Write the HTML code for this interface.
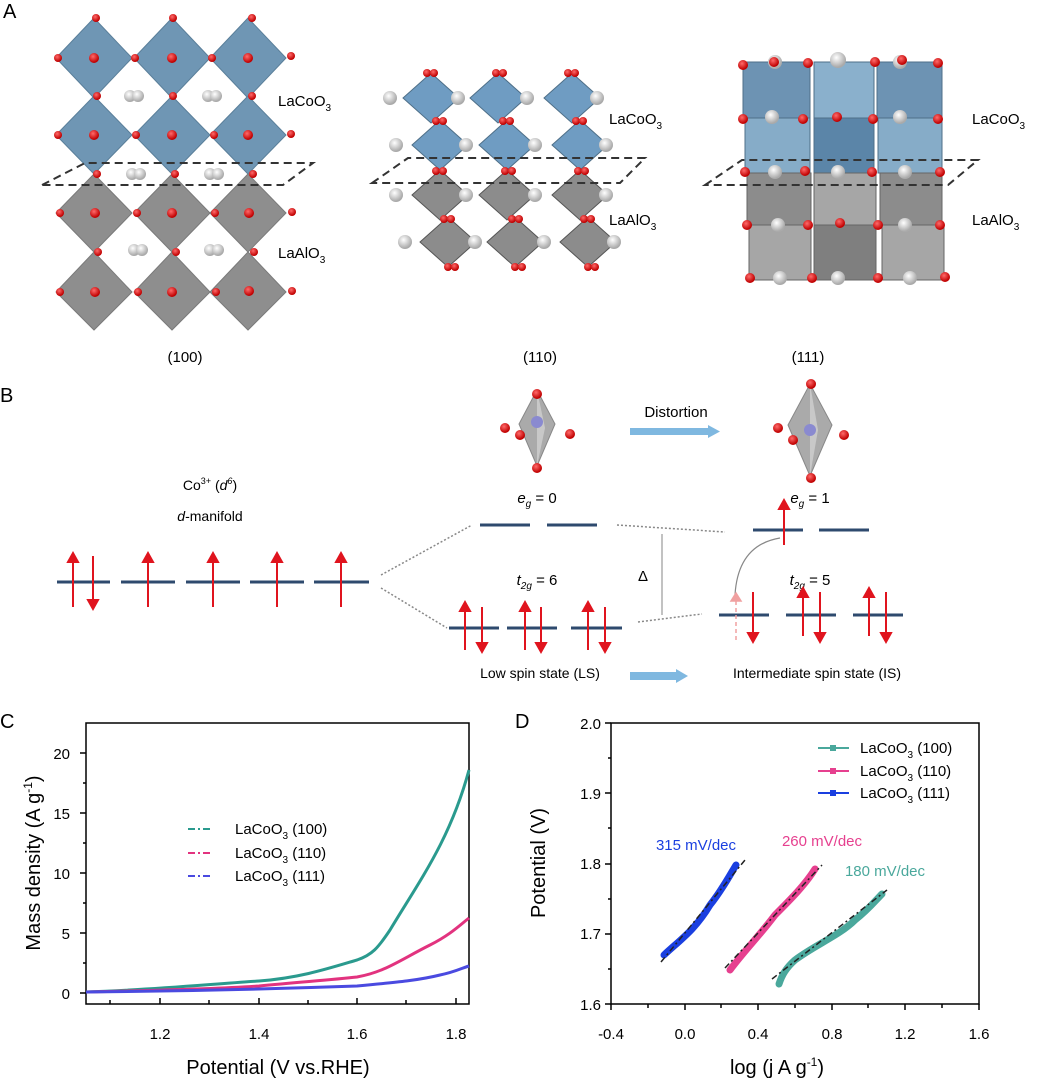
<!DOCTYPE html>
<html><head><meta charset="utf-8"><style>
body{margin:0;background:#fff}
svg{display:block;font-family:"Liberation Sans",sans-serif}
</style></head><body>
<svg width="1039" height="1082" viewBox="0 0 1039 1082" xmlns="http://www.w3.org/2000/svg">
<defs>
<radialGradient id="ro" cx="40%" cy="35%" r="60%"><stop offset="0" stop-color="#ff6a6a"/><stop offset="1" stop-color="#c00000"/></radialGradient>
<radialGradient id="wo" cx="40%" cy="35%" r="60%"><stop offset="0" stop-color="#ffffff"/><stop offset="1" stop-color="#aaaaaa"/></radialGradient>
</defs>
<text x="3" y="18" font-size="20">A</text>
<!-- (100) -->
<g>
<g fill="#6f96b4" stroke="#5a7f9a" stroke-width="1">
<polygon points="94,18 132,58 94,98 56,58"/><polygon points="172,18 210,58 172,98 134,58"/><polygon points="248,18 286,58 248,98 210,58"/>
<polygon points="94,96 132,135 94,174 56,135"/><polygon points="172,96 210,135 172,174 134,135"/><polygon points="248,96 286,135 248,174 210,135"/>
</g>
<g fill="#8e8e8e" stroke="#7a7a7a" stroke-width="1">
<polygon points="94,174 132,213 94,252 56,213"/><polygon points="172,174 210,213 172,252 134,213"/><polygon points="248,174 286,213 248,252 210,213"/>
<polygon points="94,252 132,292 94,330 56,292"/><polygon points="172,252 210,292 172,330 134,292"/><polygon points="248,252 286,292 248,330 210,292"/>
</g>
<g fill="url(#wo)"><circle cx="130" cy="96" r="6"/><circle cx="138" cy="96" r="6"/><circle cx="208" cy="96" r="6"/><circle cx="216" cy="96" r="6"/>
<circle cx="132" cy="174" r="6"/><circle cx="140" cy="174" r="6"/><circle cx="210" cy="174" r="6"/><circle cx="218" cy="174" r="6"/>
<circle cx="134" cy="250" r="6"/><circle cx="142" cy="250" r="6"/><circle cx="210" cy="250" r="6"/><circle cx="218" cy="250" r="6"/></g>
<g fill="url(#ro)">
<circle cx="96" cy="18" r="4"/><circle cx="173" cy="18" r="4"/><circle cx="252" cy="18" r="4"/>
<circle cx="58" cy="58" r="4"/><circle cx="94" cy="58" r="5"/><circle cx="135" cy="58" r="4"/><circle cx="172" cy="58" r="5"/><circle cx="212" cy="58" r="4"/><circle cx="248" cy="58" r="5"/><circle cx="291" cy="56" r="4"/>
<circle cx="97" cy="96" r="4"/><circle cx="173" cy="96" r="4"/><circle cx="252" cy="96" r="4"/>
<circle cx="58" cy="135" r="4"/><circle cx="94" cy="135" r="5"/><circle cx="136" cy="135" r="4"/><circle cx="172" cy="135" r="5"/><circle cx="214" cy="135" r="4"/><circle cx="248" cy="135" r="5"/><circle cx="291" cy="134" r="4"/>
<circle cx="97" cy="174" r="4"/><circle cx="175" cy="174" r="4"/><circle cx="253" cy="174" r="4"/>
<circle cx="60" cy="213" r="4"/><circle cx="95" cy="213" r="5"/><circle cx="137" cy="213" r="4"/><circle cx="172" cy="213" r="5"/><circle cx="215" cy="213" r="4"/><circle cx="249" cy="213" r="5"/><circle cx="292" cy="212" r="4"/>
<circle cx="98" cy="252" r="4"/><circle cx="176" cy="252" r="4"/><circle cx="254" cy="252" r="4"/>
<circle cx="60" cy="292" r="4"/><circle cx="95" cy="292" r="5"/><circle cx="138" cy="292" r="4"/><circle cx="172" cy="292" r="5"/><circle cx="216" cy="292" r="4"/><circle cx="249" cy="291" r="5"/><circle cx="292" cy="291" r="4"/>
</g>
<path d="M42,185 L85,163 L313,163 L283,185 Z" fill="none" stroke="#333" stroke-width="2" stroke-dasharray="8,5"/>
<text x="278" y="106" font-size="15">LaCoO<tspan font-size="10" dy="5">3</tspan></text>
<text x="278" y="258" font-size="15">LaAlO<tspan font-size="10" dy="5">3</tspan></text>
</g>
<!-- (110) -->
<g>
<g fill="#6f9cc2" stroke="#4e6f88"><polygon points="431,73 459,98 431,123 403,98"/><polygon points="498,73 526,98 498,123 470,98"/><polygon points="572,73 600,98 572,123 544,98"/>
<polygon points="440,120 468,145 440,170 412,145"/><polygon points="507,120 535,145 507,170 479,145"/><polygon points="580,120 608,145 580,170 552,145"/></g>
<g fill="#8c8c8c" stroke="#555"><polygon points="440,170 468,195 440,220 412,195"/><polygon points="507,170 535,195 507,220 479,195"/><polygon points="580,170 608,195 580,220 552,195"/>
<polygon points="448,217 476,242 448,267 420,242"/><polygon points="515,217 543,242 515,267 487,242"/><polygon points="588,217 616,242 588,267 560,242"/></g>
<g fill="url(#wo)"><circle cx="390" cy="98" r="7"/><circle cx="458" cy="98" r="7"/><circle cx="527" cy="98" r="7"/><circle cx="597" cy="98" r="7"/>
<circle cx="396" cy="145" r="7"/><circle cx="466" cy="145" r="7"/><circle cx="535" cy="145" r="7"/><circle cx="606" cy="145" r="7"/>
<circle cx="396" cy="195" r="7"/><circle cx="466" cy="195" r="7"/><circle cx="535" cy="195" r="7"/><circle cx="606" cy="195" r="7"/>
<circle cx="405" cy="242" r="7"/><circle cx="475" cy="242" r="7"/><circle cx="544" cy="242" r="7"/><circle cx="614" cy="242" r="7"/></g>
<g fill="url(#ro)"><circle cx="427" cy="73" r="4"/><circle cx="434" cy="73" r="4"/><circle cx="496" cy="73" r="4"/><circle cx="503" cy="73" r="4"/><circle cx="568" cy="73" r="4"/><circle cx="575" cy="73" r="4"/>
<circle cx="436" cy="121" r="4"/><circle cx="443" cy="121" r="4"/><circle cx="503" cy="121" r="4"/><circle cx="510" cy="121" r="4"/><circle cx="576" cy="121" r="4"/><circle cx="583" cy="121" r="4"/>
<circle cx="436" cy="171" r="4"/><circle cx="443" cy="171" r="4"/><circle cx="505" cy="171" r="4"/><circle cx="512" cy="171" r="4"/><circle cx="578" cy="171" r="4"/><circle cx="585" cy="171" r="4"/>
<circle cx="444" cy="219" r="4"/><circle cx="451" cy="219" r="4"/><circle cx="512" cy="219" r="4"/><circle cx="519" cy="219" r="4"/><circle cx="584" cy="219" r="4"/><circle cx="591" cy="219" r="4"/>
<circle cx="448" cy="267" r="4"/><circle cx="455" cy="267" r="4"/><circle cx="515" cy="267" r="4"/><circle cx="522" cy="267" r="4"/><circle cx="588" cy="267" r="4"/><circle cx="595" cy="267" r="4"/></g>
<path d="M372,183 L408,158 L645,158 L620,183 Z" fill="none" stroke="#333" stroke-width="2" stroke-dasharray="8,5"/>
<text x="609" y="124" font-size="15">LaCoO<tspan font-size="10" dy="5">3</tspan></text>
<text x="609" y="225" font-size="15">LaAlO<tspan font-size="10" dy="5">3</tspan></text>
</g>
<!-- (111) -->
<g>
<g fill="#6d93b3" stroke="#4f6f88"><rect x="743" y="62" width="67" height="56"/><rect x="814" y="62" width="60" height="56" fill="#8ab0cc"/><rect x="877" y="62" width="65" height="56"/>
<rect x="745" y="118" width="65" height="55" fill="#86acc8"/><rect x="814" y="118" width="60" height="55" fill="#5b85a8"/><rect x="878" y="118" width="64" height="55" fill="#86acc8"/></g>
<g fill="#8c8c8c" stroke="#666"><rect x="747" y="173" width="64" height="52"/><rect x="814" y="173" width="62" height="52" fill="#a6a6a6"/><rect x="880" y="173" width="62" height="52"/>
<rect x="749" y="225" width="62" height="55" fill="#a6a6a6"/><rect x="814" y="225" width="62" height="55" fill="#7f7f7f"/><rect x="882" y="225" width="62" height="55" fill="#a6a6a6"/></g>
<g fill="url(#wo)"><circle cx="775" cy="62" r="7"/><circle cx="838" cy="60" r="8"/><circle cx="900" cy="62" r="7"/>
<circle cx="772" cy="117" r="7"/><circle cx="900" cy="117" r="7"/><circle cx="775" cy="172" r="7"/><circle cx="838" cy="172" r="7"/><circle cx="905" cy="172" r="7"/>
<circle cx="778" cy="225" r="7"/><circle cx="905" cy="225" r="7"/><circle cx="780" cy="278" r="7"/><circle cx="838" cy="278" r="7"/><circle cx="910" cy="278" r="7"/></g>
<g fill="url(#ro)"><circle cx="743" cy="65" r="5"/><circle cx="774" cy="62" r="5"/><circle cx="808" cy="63" r="5"/><circle cx="875" cy="62" r="5"/><circle cx="902" cy="60" r="5"/><circle cx="938" cy="63" r="5"/>
<circle cx="743" cy="119" r="5"/><circle cx="803" cy="119" r="5"/><circle cx="837" cy="117" r="5"/><circle cx="873" cy="119" r="5"/><circle cx="938" cy="119" r="5"/>
<circle cx="745" cy="172" r="5"/><circle cx="805" cy="171" r="5"/><circle cx="872" cy="172" r="5"/><circle cx="940" cy="172" r="5"/>
<circle cx="747" cy="225" r="5"/><circle cx="808" cy="225" r="5"/><circle cx="840" cy="223" r="5"/><circle cx="878" cy="225" r="5"/><circle cx="940" cy="225" r="5"/>
<circle cx="750" cy="278" r="5"/><circle cx="812" cy="278" r="5"/><circle cx="878" cy="278" r="5"/><circle cx="945" cy="277" r="5"/></g>
<path d="M705,185 L742,160 L978,160 L948,185 Z" fill="none" stroke="#333" stroke-width="2" stroke-dasharray="8,5"/>
<text x="972" y="124" font-size="15">LaCoO<tspan font-size="10" dy="5">3</tspan></text>
<text x="972" y="225" font-size="15">LaAlO<tspan font-size="10" dy="5">3</tspan></text>
</g>
<text x="185" y="362" font-size="15" text-anchor="middle">(100)</text>
<text x="540" y="362" font-size="15" text-anchor="middle">(110)</text>
<text x="808" y="362" font-size="15" text-anchor="middle">(111)</text>

<!-- B -->
<text x="0" y="402" font-size="20">B</text>
<g>
<polygon points="537,390 555,424 537,466 519,424" fill="#aaa" stroke="#888"/>
<polygon points="537,390 545,428 537,466" fill="#c8c8c8"/>
<circle cx="537" cy="422" r="6" fill="#8a8ad0"/>
<g fill="url(#ro)"><circle cx="537" cy="394" r="5"/><circle cx="537" cy="468" r="5"/><circle cx="505" cy="428" r="5"/><circle cx="520" cy="435" r="5"/><circle cx="570" cy="434" r="5"/></g>
<polygon points="810,384 832,425 810,476 788,425" fill="#aaa" stroke="#888"/>
<polygon points="810,384 818,430 810,476" fill="#c8c8c8"/>
<circle cx="810" cy="430" r="6" fill="#8a8ad0"/>
<g fill="url(#ro)"><circle cx="811" cy="384" r="5"/><circle cx="811" cy="478" r="5"/><circle cx="778" cy="428" r="5"/><circle cx="793" cy="440" r="5"/><circle cx="844" cy="435" r="5"/></g>
<text x="676" y="417" font-size="15" text-anchor="middle">Distortion</text>
<rect x="630" y="428" width="80" height="7" fill="#7fb8e0"/><polygon points="708,425 720,431.5 708,438" fill="#7fb8e0"/>
<text x="210" y="490" font-size="14" text-anchor="middle">Co<tspan font-size="9" dy="-6">3+</tspan><tspan dy="6"> (</tspan><tspan font-style="italic">d</tspan><tspan font-size="9" dy="-6" font-style="italic">6</tspan><tspan dy="6">)</tspan></text>
<text x="210" y="521" font-size="14" text-anchor="middle"><tspan font-style="italic">d</tspan>-manifold</text>
<text x="537" y="503" font-size="15" text-anchor="middle"><tspan font-style="italic">e</tspan><tspan font-size="10" dy="4" font-style="italic">g</tspan><tspan dy="-4"> = 0</tspan></text>
<text x="810" y="503" font-size="15" text-anchor="middle"><tspan font-style="italic">e</tspan><tspan font-size="10" dy="4" font-style="italic">g</tspan><tspan dy="-4"> = 1</tspan></text>
<text x="537" y="585" font-size="15" text-anchor="middle"><tspan font-style="italic">t</tspan><tspan font-size="10" dy="4" font-style="italic">2g</tspan><tspan dy="-4"> = 6</tspan></text>
<text x="810" y="585" font-size="15" text-anchor="middle"><tspan font-style="italic">t</tspan><tspan font-size="10" dy="4" font-style="italic">2g</tspan><tspan dy="-4"> = 5</tspan></text>
<text x="643" y="581" font-size="15" text-anchor="middle">Δ</text>
<line x1="662" y1="534" x2="662" y2="615" stroke="#999" stroke-width="1.2"/>
<g stroke="#2e4a6e" stroke-width="3">
<line x1="57" y1="582" x2="110" y2="582"/><line x1="121" y1="582" x2="175" y2="582"/><line x1="186" y1="582" x2="240" y2="582"/><line x1="250" y1="582" x2="304" y2="582"/><line x1="314" y1="582" x2="369" y2="582"/>
<line x1="480" y1="525" x2="530" y2="525"/><line x1="547" y1="525" x2="597" y2="525"/>
<line x1="449" y1="628" x2="499" y2="628"/><line x1="507" y1="628" x2="557" y2="628"/><line x1="571" y1="628" x2="622" y2="628"/>
<line x1="753" y1="530" x2="803" y2="530"/><line x1="819" y1="530" x2="869" y2="530"/>
<line x1="719" y1="615" x2="769" y2="615"/><line x1="786" y1="615" x2="836" y2="615"/><line x1="853" y1="615" x2="903" y2="615"/>
</g>
<g stroke="#888" stroke-width="1.5" stroke-dasharray="2,2" fill="none">
<line x1="381" y1="575" x2="472" y2="525"/><line x1="381" y1="588" x2="447" y2="628"/>
<line x1="617" y1="525" x2="725" y2="532"/><line x1="638" y1="622" x2="702" y2="614"/>
</g>
<path d="M735,595 Q738,545 780,538" fill="none" stroke="#888" stroke-width="1.2"/>
<g stroke="#e0141e" stroke-width="2" fill="#e0141e">
<line x1="73" y1="607" x2="73" y2="559"/><polygon points="68,562 73,553 78,562"/><line x1="93" y1="556" x2="93" y2="603"/><polygon points="88,600 93,609 98,600"/>
<line x1="148" y1="607" x2="148" y2="559"/><polygon points="143,562 148,553 153,562"/>
<line x1="213" y1="607" x2="213" y2="559"/><polygon points="208,562 213,553 218,562"/>
<line x1="277" y1="607" x2="277" y2="559"/><polygon points="272,562 277,553 282,562"/>
<line x1="341" y1="607" x2="341" y2="559"/><polygon points="336,562 341,553 346,562"/>
<line x1="465" y1="650" x2="465" y2="608"/><polygon points="460,611 465,602 470,611"/><line x1="482" y1="607" x2="482" y2="646"/><polygon points="477,643 482,652 487,643"/>
<line x1="525" y1="650" x2="525" y2="608"/><polygon points="520,611 525,602 530,611"/><line x1="541" y1="607" x2="541" y2="646"/><polygon points="536,643 541,652 546,643"/>
<line x1="588" y1="650" x2="588" y2="608"/><polygon points="583,611 588,602 593,611"/><line x1="605" y1="607" x2="605" y2="646"/><polygon points="600,643 605,652 610,643"/>
<line x1="784" y1="545" x2="784" y2="506"/><polygon points="779,509 784,500 789,509"/>
<line x1="753" y1="592" x2="753" y2="636"/><polygon points="748,633 753,642 758,633"/>
<line x1="803" y1="636" x2="803" y2="594"/><polygon points="798,597 803,588 808,597"/><line x1="820" y1="592" x2="820" y2="636"/><polygon points="815,633 820,642 825,633"/>
<line x1="869" y1="636" x2="869" y2="594"/><polygon points="864,597 869,588 874,597"/><line x1="886" y1="592" x2="886" y2="636"/><polygon points="881,633 886,642 891,633"/>
</g>
<g stroke="#f0a0a0" stroke-width="1.5" fill="#f0a0a0"><line x1="736" y1="640" x2="736" y2="598" stroke-dasharray="4,3"/><polygon points="731,601 736,593 741,601"/></g>
<text x="540" y="678" font-size="14" text-anchor="middle">Low spin state (LS)</text>
<rect x="630" y="672" width="48" height="8" fill="#7fb8e0"/><polygon points="676,669 688,676 676,683" fill="#7fb8e0"/>
<text x="817" y="678" font-size="14" text-anchor="middle">Intermediate spin state (IS)</text>
</g>

<!-- C -->
<text x="0" y="728" font-size="20">C</text>
<rect x="86" y="723" width="383" height="281" fill="none" stroke="#000" stroke-width="1.5"/>
<g stroke="#000" stroke-width="1.5">
<line x1="86" y1="993" x2="80" y2="993"/><line x1="86" y1="933" x2="80" y2="933"/><line x1="86" y1="873" x2="80" y2="873"/><line x1="86" y1="813" x2="80" y2="813"/><line x1="86" y1="753" x2="80" y2="753"/>
<line x1="86" y1="963" x2="83" y2="963"/><line x1="86" y1="903" x2="83" y2="903"/><line x1="86" y1="843" x2="83" y2="843"/><line x1="86" y1="783" x2="83" y2="783"/>
<line x1="160" y1="1004" x2="160" y2="998"/><line x1="259" y1="1004" x2="259" y2="998"/><line x1="357" y1="1004" x2="357" y2="998"/><line x1="456" y1="1004" x2="456" y2="998"/>
<line x1="110" y1="1004" x2="110" y2="1000"/><line x1="209" y1="1004" x2="209" y2="1000"/><line x1="308" y1="1004" x2="308" y2="1000"/><line x1="406" y1="1004" x2="406" y2="1000"/>
</g>
<g font-size="15" text-anchor="end"><text x="70" y="999">0</text><text x="70" y="939">5</text><text x="70" y="879">10</text><text x="70" y="819">15</text><text x="70" y="759">20</text></g>
<g font-size="15" text-anchor="middle"><text x="160" y="1039">1.2</text><text x="259" y="1039">1.4</text><text x="357" y="1039">1.6</text><text x="456" y="1039">1.8</text></g>
<text x="278" y="1074" font-size="20" text-anchor="middle">Potential (V vs.RHE)</text>
<text transform="translate(40,863) rotate(-90)" font-size="20" text-anchor="middle">Mass density (A g<tspan font-size="12" dy="-8">-1</tspan><tspan dy="8">)</tspan></text>
<g fill="none" stroke-width="3">
<path d="M86,992 C150,990 200,985 259,981 C300,978 330,968 357,960 C372,955 378,948 390,930 C420,880 450,840 469,770" stroke="#2a9a8e"/>
<path d="M86,992 C180,990 230,988 259,986 C300,982 330,980 357,977 C385,972 400,960 430,945 C450,935 460,925 469,918" stroke="#e2337f"/>
<path d="M86,992 C200,991 300,988 357,986 C400,982 420,980 440,975 C455,972 462,968 469,966" stroke="#4a4ae0"/>
</g>
<g font-size="15">
<line x1="188" y1="829" x2="213" y2="829" stroke="#2a9a8e" stroke-width="2" stroke-dasharray="7,3,2,3"/><text x="235" y="834">LaCoO<tspan font-size="10" dy="5">3</tspan><tspan dy="-5"> (100)</tspan></text>
<line x1="188" y1="853" x2="213" y2="853" stroke="#e2337f" stroke-width="2" stroke-dasharray="7,3,2,3"/><text x="235" y="858">LaCoO<tspan font-size="10" dy="5">3</tspan><tspan dy="-5"> (110)</tspan></text>
<line x1="188" y1="876" x2="213" y2="876" stroke="#4a4ae0" stroke-width="2" stroke-dasharray="7,3,2,3"/><text x="235" y="881">LaCoO<tspan font-size="10" dy="5">3</tspan><tspan dy="-5"> (111)</tspan></text>
</g>

<!-- D -->
<text x="515" y="728" font-size="20">D</text>
<rect x="611" y="723" width="368" height="281" fill="none" stroke="#000" stroke-width="1.5"/>
<g stroke="#000" stroke-width="1.5">
<line x1="611" y1="1004" x2="605" y2="1004"/><line x1="611" y1="934" x2="605" y2="934"/><line x1="611" y1="864" x2="605" y2="864"/><line x1="611" y1="793" x2="605" y2="793"/><line x1="611" y1="723" x2="605" y2="723"/>
<line x1="611" y1="969" x2="608" y2="969"/><line x1="611" y1="899" x2="608" y2="899"/><line x1="611" y1="828" x2="608" y2="828"/><line x1="611" y1="758" x2="608" y2="758"/>
<line x1="611" y1="1004" x2="611" y2="1010"/><line x1="685" y1="1004" x2="685" y2="1010"/><line x1="758" y1="1004" x2="758" y2="1010"/><line x1="832" y1="1004" x2="832" y2="1010"/><line x1="905" y1="1004" x2="905" y2="1010"/><line x1="979" y1="1004" x2="979" y2="1010"/>
<line x1="648" y1="1004" x2="648" y2="1008"/><line x1="721" y1="1004" x2="721" y2="1008"/><line x1="795" y1="1004" x2="795" y2="1008"/><line x1="868" y1="1004" x2="868" y2="1008"/><line x1="942" y1="1004" x2="942" y2="1008"/>
</g>
<g font-size="15" text-anchor="end"><text x="601" y="1010">1.6</text><text x="601" y="939">1.7</text><text x="601" y="869">1.8</text><text x="601" y="799">1.9</text><text x="601" y="729">2.0</text></g>
<g font-size="15" text-anchor="middle"><text x="611" y="1039">-0.4</text><text x="685" y="1039">0.0</text><text x="758" y="1039">0.4</text><text x="832" y="1039">0.8</text><text x="905" y="1039">1.2</text><text x="979" y="1039">1.6</text></g>
<text x="777" y="1074" font-size="20" text-anchor="middle">log (j A g<tspan font-size="12" dy="-8">-1</tspan><tspan dy="8">)</tspan></text>
<text transform="translate(545,863) rotate(-90)" font-size="20" text-anchor="middle">Potential (V)</text>
<g fill="none" stroke-width="7" stroke-linecap="round">
<path d="M664,955 C680,940 695,930 710,905 C722,890 730,875 736,865" stroke="#1a3fe0"/>
<path d="M730,970 C745,950 760,935 775,915 C790,900 805,885 815,869" stroke="#e6408f"/>
<path d="M779,984 C782,975 786,968 795,960 C815,945 840,935 855,920 C868,910 876,900 882,894" stroke="#4aa89c"/>
</g>
<g fill="none" stroke="#222" stroke-width="1.5" stroke-dasharray="6,3,2,3">
<line x1="661" y1="962" x2="745" y2="860"/><line x1="725" y1="968" x2="822" y2="865"/><line x1="772" y1="979" x2="887" y2="890"/>
</g>
<text x="696" y="850" font-size="15" fill="#1a3fe0" text-anchor="middle">315 mV/dec</text>
<text x="822" y="846" font-size="15" fill="#e6408f" text-anchor="middle">260 mV/dec</text>
<text x="885" y="876" font-size="15" fill="#4aa89c" text-anchor="middle">180 mV/dec</text>
<g font-size="15">
<line x1="818" y1="748" x2="849" y2="748" stroke="#4aa89c" stroke-width="2"/><rect x="830" y="745" width="6" height="6" fill="#4aa89c"/><text x="860" y="753">LaCoO<tspan font-size="10" dy="5">3</tspan><tspan dy="-5"> (100)</tspan></text>
<line x1="818" y1="771" x2="849" y2="771" stroke="#e6408f" stroke-width="2"/><rect x="830" y="768" width="6" height="6" fill="#e6408f"/><text x="860" y="776">LaCoO<tspan font-size="10" dy="5">3</tspan><tspan dy="-5"> (110)</tspan></text>
<line x1="818" y1="793" x2="849" y2="793" stroke="#1a3fe0" stroke-width="2"/><rect x="830" y="790" width="6" height="6" fill="#1a3fe0"/><text x="860" y="798">LaCoO<tspan font-size="10" dy="5">3</tspan><tspan dy="-5"> (111)</tspan></text>
</g>
</svg>
</body></html>
